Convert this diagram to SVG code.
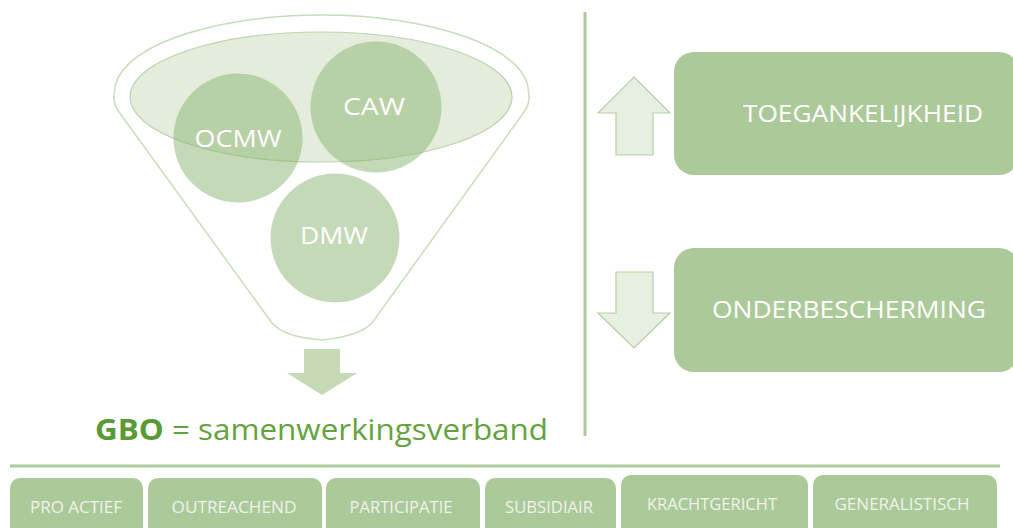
<svg xmlns="http://www.w3.org/2000/svg" width="1013" height="528" viewBox="0 0 1013 528">
<style>
.lbl{font-family:"Open Sans","Liberation Sans",sans-serif;fill:#ffffff;text-anchor:middle}
.box{fill:#acc99a}
.circ{fill:#8ab370;fill-opacity:0.5}
.arrowL{fill:#e6efe0;stroke:#b6cfa6;stroke-width:1.2}
.line{stroke:#acc99a;stroke-width:3;fill:none}
.small{font-size:16.5px;fill:#eef4ea}
</style>
<rect width="1013" height="528" fill="#ffffff"/>
<g id="funnel">
<path d="M119,112 Q112,102 114.5,92 A207 77 0 0 1 528.5,92 Q531,102 524,112 L372,323 Q360,336 322,340 Q284,337 272,323 Z" fill="#ffffff" stroke="#c9dcbc" stroke-width="1.5"/>
<ellipse cx="321" cy="97" rx="191" ry="65" fill="#e4eddc" stroke="#bcd3ad" stroke-width="1.2"/>
</g>
<g id="OCMW"><circle class="circ" cx="238" cy="138" r="64.5"/><text class="lbl" x="238" y="147" font-size="24" textLength="87" lengthAdjust="spacingAndGlyphs">OCMW</text></g>
<g id="CAW"><circle class="circ" cx="376" cy="107" r="65.5"/><text class="lbl" x="374" y="115" font-size="24" textLength="62" lengthAdjust="spacingAndGlyphs">CAW</text></g>
<g id="DMW"><circle class="circ" cx="335" cy="238" r="64.5"/><text class="lbl" x="334" y="244" font-size="24" textLength="68" lengthAdjust="spacingAndGlyphs">DMW</text></g>
<g id="connectors">
<path d="M304,349 L340,349 L340,373 L357,373 L322,395 L287,373 L304,373 Z" fill="#c5d9b7"/>
<line class="line" x1="585" y1="12" x2="585" y2="436"/>
<line class="line" x1="10" y1="466" x2="1000" y2="466"/>
<path class="arrowL" d="M634,77 L670,113 L653,113 L653,155 L616,155 L616,113 L598,113 Z"/>
<path class="arrowL" d="M616,272 L653,272 L653,313 L670,313 L634,348 L598,313 L616,313 Z"/>
</g>
<g id="GBO">
<text x="95" y="440" font-family="'Open Sans','Liberation Sans',sans-serif" font-size="29" fill="#64a23e" textLength="453" lengthAdjust="spacingAndGlyphs"><tspan font-weight="bold" fill="#5a9a32">GBO</tspan> = samenwerkingsverband</text>
</g>
<g id="TOEGANKELIJKHEID"><rect class="box" x="674" y="52" width="345" height="123" rx="20"/><text class="lbl" x="863" y="122" font-size="24" textLength="240" lengthAdjust="spacingAndGlyphs">TOEGANKELIJKHEID</text></g>
<g id="ONDERBESCHERMING"><rect class="box" x="674" y="248" width="345" height="124" rx="20"/><text class="lbl" x="849" y="318" font-size="24" textLength="274" lengthAdjust="spacingAndGlyphs">ONDERBESCHERMING</text></g>
<g id="PROACTIEF"><rect class="box" x="10" y="478" width="133" height="60" rx="10"/><text class="lbl small" x="76" y="513" textLength="92" lengthAdjust="spacingAndGlyphs">PRO ACTIEF</text></g>
<g id="OUTREACHEND"><rect class="box" x="148" y="478" width="174" height="60" rx="10"/><text class="lbl small" x="234" y="513" textLength="125" lengthAdjust="spacingAndGlyphs">OUTREACHEND</text></g>
<g id="PARTICIPATIE"><rect class="box" x="326" y="478" width="154" height="60" rx="10"/><text class="lbl small" x="401" y="513" textLength="103" lengthAdjust="spacingAndGlyphs">PARTICIPATIE</text></g>
<g id="SUBSIDIAIR"><rect class="box" x="485" y="478" width="131" height="60" rx="10"/><text class="lbl small" x="549" y="513" textLength="88" lengthAdjust="spacingAndGlyphs">SUBSIDIAIR</text></g>
<g id="KRACHTGERICHT"><rect class="box" x="621" y="475" width="187" height="63" rx="10"/><text class="lbl small" x="712" y="510" textLength="130" lengthAdjust="spacingAndGlyphs">KRACHTGERICHT</text></g>
<g id="GENERALISTISCH"><rect class="box" x="813" y="475" width="184" height="63" rx="10"/><text class="lbl small" x="902" y="510" textLength="135" lengthAdjust="spacingAndGlyphs">GENERALISTISCH</text></g>
</svg>
